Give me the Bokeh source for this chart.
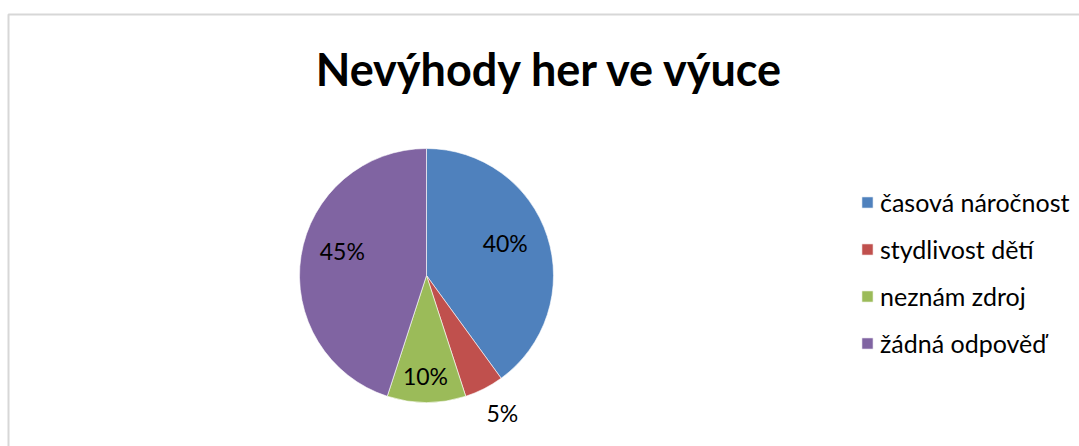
import math
from bokeh.plotting import figure
from bokeh.models import Range1d, ColumnDataSource, Legend, LegendItem, Label, BoxAnnotation
from bokeh.core.properties import value
from bokeh.embed import file_html
from bokeh.resources import INLINE

# ---- data ----
title_text = "Nevýhody her ve výuce"
categories = ["časová náročnost", "stydlivost dětí", "neznám zdroj", "žádná odpověď"]
shares = [40, 5, 10, 45]
colors = ["#4F81BD", "#C0504D", "#9BBB59", "#8064A2"]

# ---- layout ----
W, H = 1079, 446
FONT = "Lato"
cx, cy = 426, H - 275
R = 127
label_radius = [0.67, 1.235, 0.79, 0.69]      # fraction of radius
label_angle_shift = [4.3, 1.9, -0.6, -7.0]    # degrees, best-fit nudges

total = float(sum(shares))
starts, ends, mids = [], [], []
acc = 0.0
for v in shares:
    a0 = math.pi / 2 - 2 * math.pi * acc / total
    acc += v
    a1 = math.pi / 2 - 2 * math.pi * acc / total
    starts.append(a0)
    ends.append(a1)
    mids.append((a0 + a1) / 2)

ang = [m + math.radians(s) for m, s in zip(mids, label_angle_shift)]
lx = [cx + R * f * math.cos(a) for f, a in zip(label_radius, ang)]
ly = [cy + R * f * math.sin(a) for f, a in zip(label_radius, ang)]
labels = [f"{v / total * 100:.0f}%" for v in shares]

src = ColumnDataSource(dict(cat=categories, val=shares, color=colors,
                            start=starts, end=ends, lx=lx, ly=ly, lab=labels))

p = figure(width=W, height=H, output_backend="svg", toolbar_location=None,
           x_range=Range1d(0, W), y_range=Range1d(0, H),
           x_axis_location=None, y_axis_location=None,
           min_border=0, outline_line_color=None)
p.grid.visible = False
p.background_fill_color = "white"
p.border_fill_color = "white"

# chart border (top & left visible, rest outside window)
p.add_layout(BoxAnnotation(left=8, right=W + 20, bottom=-20, top=H - 14,
                           fill_alpha=0, line_color="#7a7a7a", line_width=2))

wedges = p.wedge(x=cx, y=cy, radius=R, radius_units="screen",
                 start_angle="start", end_angle="end", direction="clock",
                 fill_color="color", line_color="white", line_width=0.6, source=src)

p.text(x="lx", y="ly", text="lab", source=src, text_align="center",
       text_baseline="middle", text_font=value(FONT), text_font_size="23px",
       text_color="black")

p.add_layout(Label(x=550, y=H - 68, text=title_text, text_align="center",
                   text_baseline="middle", text_font=FONT, text_font_style="bold",
                   text_font_size="45px", text_color="black"))

items = [LegendItem(label=c, renderers=[wedges], index=i) for i, c in enumerate(categories)]
legend = Legend(items=items, location=(860, 88), orientation="vertical",
                border_line_color=None, background_fill_alpha=0,
                label_text_font=FONT, label_text_font_size="25px",
                label_text_color="black", glyph_width=14, glyph_height=14,
                label_standoff=6, spacing=17, padding=0, margin=0)
p.add_layout(legend)

open("out.html", "w").write(file_html(p, INLINE))
